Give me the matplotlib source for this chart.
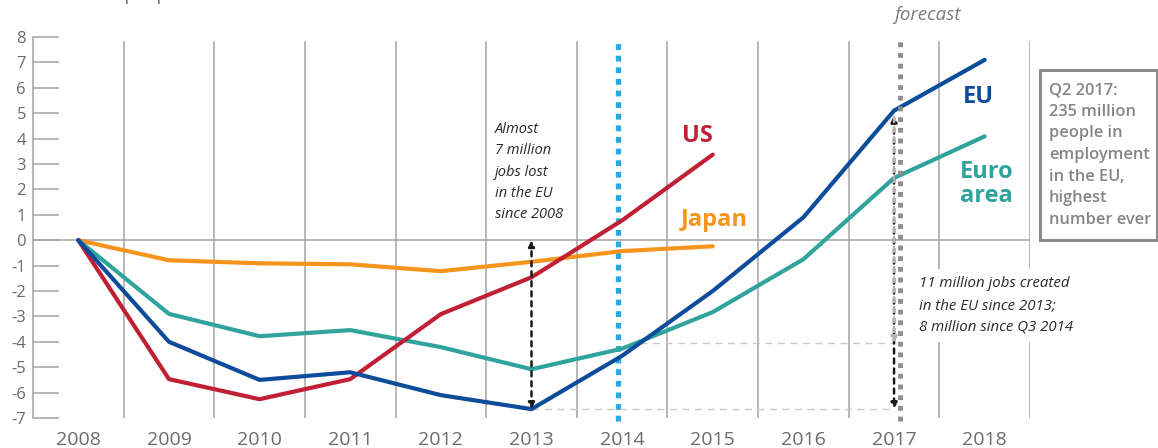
import matplotlib
matplotlib.use("Agg")
import matplotlib.pyplot as plt
from matplotlib.patches import Rectangle

plt.rcParams['font.family'] = ['Open Sans', 'DejaVu Sans']

# Employment change since 2008, million people
years = [2008, 2009, 2010, 2011, 2012, 2013, 2014, 2015, 2016, 2017, 2018]
eu = [0, -4.0, -5.5, -5.2, -6.1, -6.65, -4.55, -2.0, 0.9, 5.1, 7.1]
euro_area = [0, -2.9, -3.78, -3.54, -4.21, -5.08, -4.27, -2.83, -0.75, 2.45, 4.09]
us_years = [2008, 2009, 2010, 2011, 2012, 2013, 2014, 2015]
us = [0, -5.47, -6.26, -5.47, -2.91, -1.46, 0.78, 3.37]
japan_years = [2008, 2009, 2010, 2011, 2012, 2013, 2014, 2015]
japan = [0, -0.79, -0.91, -0.95, -1.22, -0.85, -0.43, -0.24]
y_ticks = list(range(-7, 9))

eu_min = -6.65
eu_q3_2014 = -4.05
q3_2014 = 2014.2
marker_2014 = 2013.95
forecast_start = 2017.07

C_EU = '#0d4c9b'
C_EA = '#2fa39c'
C_US = '#c11f33'
C_JP = '#f7941d'
C_GRID = '#a3a3a3'
C_TXT = '#6b6b6b'

fig = plt.figure(figsize=(11.58, 4.48), dpi=100)
ax = fig.add_axes([33 / 1158, 1 - 418 / 448, (1030 - 33) / 1158, (418 - 37) / 448])
ax.set_xlim(2007.5, 2018.5)
ax.set_ylim(-7, 8)

for s in ['top', 'right', 'bottom']:
    ax.spines[s].set_visible(False)
ax.spines['left'].set_color(C_GRID)
ax.spines['left'].set_linewidth(1.1)

# category separators and zero line
for x in [y + 0.5 for y in years]:
    ax.plot([x, x], [-7, 7.8], color=C_GRID, lw=1.1, zorder=1)
ax.plot([2007.5, 2018.5], [0, 0], color=C_GRID, lw=1.1, zorder=1)

ax.set_yticks(y_ticks)
ax.set_yticklabels([str(v) for v in y_ticks])
ax.tick_params(axis='y', direction='in', length=19, width=1.1, color=C_GRID,
               labelsize=12, labelcolor=C_TXT, pad=5)
ax.set_xticks(years)
ax.set_xticklabels([str(y) for y in years])
ax.tick_params(axis='x', length=0, labelsize=14, labelcolor=C_TXT, pad=9)

# vertical markers: Q3 2014 and start of forecast
ax.plot([marker_2014, marker_2014], [-7.1, 7.9], color='#29a9e1', lw=3.8,
        linestyle=(0, (1.1, 1.1)), zorder=2, clip_on=False)
ax.plot([forecast_start, forecast_start], [-7.1, 7.95], color='#8e8e8e', lw=3.5,
        linestyle=(0, (1.0, 1.2)), zorder=6, clip_on=False)

# reference levels
ax.plot([2013, 2017], [eu_min, eu_min], color='#c9c9c9', lw=1.0,
        linestyle=(0, (5, 4)), zorder=2)
ax.plot([q3_2014, 2017], [eu_q3_2014, eu_q3_2014], color='#c9c9c9', lw=1.0,
        linestyle=(0, (5, 4)), zorder=2)

# series
ax.plot(japan_years, japan, color=C_JP, lw=3.0, solid_capstyle='round', zorder=3)
ax.plot(years, euro_area, color=C_EA, lw=3.0, solid_capstyle='round', zorder=3)
ax.plot(us_years, us, color=C_US, lw=3.0, solid_capstyle='round', zorder=3)
ax.plot(years, eu, color=C_EU, lw=3.0, solid_capstyle='round', zorder=4)

# arrows
arr_kw = dict(arrowstyle='<|-|>', linestyle=(0, (2, 2)), lw=1.8,
              mutation_scale=9, shrinkA=0, shrinkB=0)
ax.annotate('', xy=(2013, 0), xytext=(2013, eu_min),
            arrowprops=dict(color='#1a1a1a', **arr_kw), zorder=5)
ax.annotate('', xy=(2017, eu_min), xytext=(2017, eu[9] - 0.2),
            arrowprops=dict(color='#1a1a1a', **arr_kw), zorder=5)
ax.annotate('', xy=(2017, eu_q3_2014), xytext=(2017, eu[9] - 0.25),
            arrowprops=dict(color='#b3b3b3', arrowstyle='-|>', linestyle=(0, (2, 2)),
                            lw=1.8, mutation_scale=9, shrinkA=0, shrinkB=0), zorder=5)

# series labels
lab_kw = dict(ha='center', va='center', fontsize=17, fontweight='bold', zorder=7)
ax.text(2014.83, 4.1, 'US', color=C_US, **lab_kw)
ax.text(2015.02, 0.8, 'Japan', color=C_JP, **lab_kw)
ax.text(2017.93, 5.63, 'EU', color=C_EU, **lab_kw)
ax.text(2018.02, 2.2, 'Euro\narea', color=C_EA, linespacing=1.0, **lab_kw)

# notes
note_kw = dict(style='italic', color='#2a2a2a')
ax.text(2012.6, 2.68, 'Almost\n7 million\njobs lost\nin the EU\nsince 2008',
        ha='left', va='center', zorder=7, fontsize=10.5, linespacing=1.58, **note_kw)
ax.text(2017.27, -2.56, '11 million jobs created\nin the EU since 2013;\n8 million since Q3 2014',
        ha='left', va='center', zorder=7, fontsize=10.8, linespacing=1.6,
        bbox=dict(boxstyle='square,pad=0.5', facecolor='white', edgecolor='none'),
        **note_kw)
ax.text(2017.37, 8.86, 'forecast', ha='center', va='center', fontsize=13.5,
        style='italic', color='#7a7a7a', clip_on=False)

# highlight box
fig.patches.append(Rectangle((1040 / 1158, 1 - 240 / 448), (1156.5 - 1040) / 1158,
                             (240 - 70) / 448, transform=fig.transFigure,
                             fill=False, edgecolor='#8c8c8c', lw=2.2))
fig.text(1049 / 1158, 1 - 155 / 448,
         'Q2 2017:\n235 million\npeople in\nemployment\nin the EU,\nhighest\nnumber ever',
         ha='left', va='center', fontsize=11.8, color='#858585', fontweight='semibold',
         linespacing=1.47)

# unit caption at the top edge
fig.text(182 / 1158, 1.0, 'Million people', ha='right', va='baseline',
         fontsize=13, color=C_TXT)

fig.savefig('out.png', dpi=100)
